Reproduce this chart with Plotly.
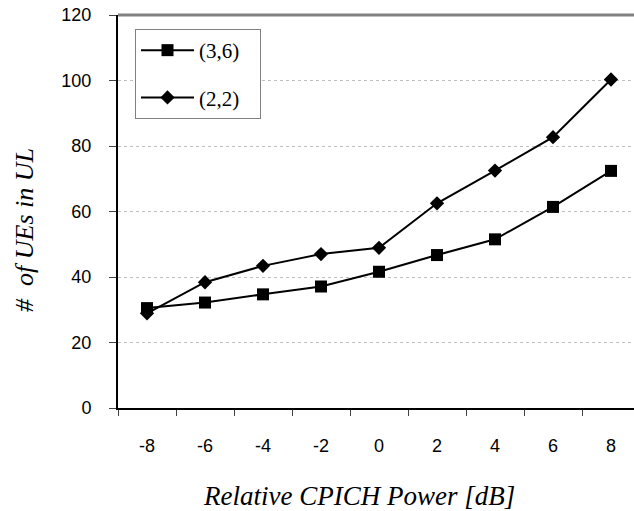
import plotly.graph_objects as go

categories = ["-8", "-6", "-4", "-2", "0", "2", "4", "6", "8"]
series_36 = [30.5, 32.2, 34.7, 37.1, 41.6, 46.7, 51.5, 61.4, 72.4]
series_22 = [28.9, 38.4, 43.4, 47.0, 48.9, 62.5, 72.5, 82.7, 100.3]
series_names = ["(3,6)", "(2,2)"]
y_ticks = [0, 20, 40, 60, 80, 100, 120]

W, H = 634, 511
L, T = 118, 15
plot_bottom = 408
cat_w = 58.0

SERIF = "Liberation Serif"
SANS = "Liberation Sans"

fig = go.Figure()
fig.add_trace(go.Scatter(
    x=categories, y=series_36, name=series_names[0] + "\u00a0\u00a0\u00a0",
    mode="lines+markers",
    line=dict(color="black", width=2),
    marker=dict(symbol="square", size=12, color="black"),
    legendgroup="a",
))
fig.add_trace(go.Scatter(
    x=categories, y=series_22, name=series_names[1] + "\u00a0\u00a0\u00a0",
    mode="lines+markers",
    line=dict(color="black", width=2),
    marker=dict(symbol="diamond", size=11, color="black"),
    legendgroup="b",
))

plot_w = W - L
x_max = -0.5 + plot_w / cat_w

fig.update_layout(
    width=W, height=H,
    margin=dict(l=L, r=0, t=T, b=H - plot_bottom),
    paper_bgcolor="white", plot_bgcolor="white",
    font=dict(family=SANS, size=18, color="black"),
    showlegend=True,
    legend=dict(
        x=(135 - L) / plot_w, y=1 - (29 - T) / (plot_bottom - T),
        xanchor="left", yanchor="top",
        bordercolor="#808080", borderwidth=1, bgcolor="white",
        font=dict(family=SERIF, size=21),
        itemwidth=53, tracegroupgap=17,
    ),
    xaxis=dict(
        type="category", range=[-0.5, x_max],
        tickson="boundaries", ticks="outside", ticklen=6, tickcolor="#444",
        tickwidth=1, showline=True, linecolor="black", linewidth=2,
        showgrid=False, zeroline=False, ticklabelstandoff=20,
        tickfont=dict(family=SANS, size=18),
    ),
    yaxis=dict(
        range=[0, 120], tickvals=y_ticks, ticks="outside", ticklen=7,
        tickcolor="#444", showline=True, linecolor="black", linewidth=2,
        showgrid=True, gridcolor="#c0c0c0", griddash="dot", gridwidth=1,
        zeroline=False, ticklabelstandoff=14, tickfont=dict(family=SANS, size=18),
    ),
    shapes=[dict(type="line", xref="paper", yref="paper", x0=0, x1=1.02,
                 y0=1, y1=1, line=dict(color="#808080", width=3))],
    annotations=[
        dict(text="Relative CPICH Power [dB]", xref="paper", yref="paper",
             x=(359 - L) / plot_w, y=-(496 - plot_bottom) / (plot_bottom - T),
             xanchor="center", yanchor="middle", showarrow=False,
             font=dict(family=SERIF, size=27, style="italic")),
        dict(text="#  of UEs in UL", xref="paper", yref="paper",
             x=-(L - 25) / plot_w, y=1 - (230 - T) / (plot_bottom - T),
             xanchor="center", yanchor="middle", showarrow=False, textangle=-90,
             font=dict(family=SERIF, size=26, style="italic")),
    ],
)

fig.write_html("out.html")
